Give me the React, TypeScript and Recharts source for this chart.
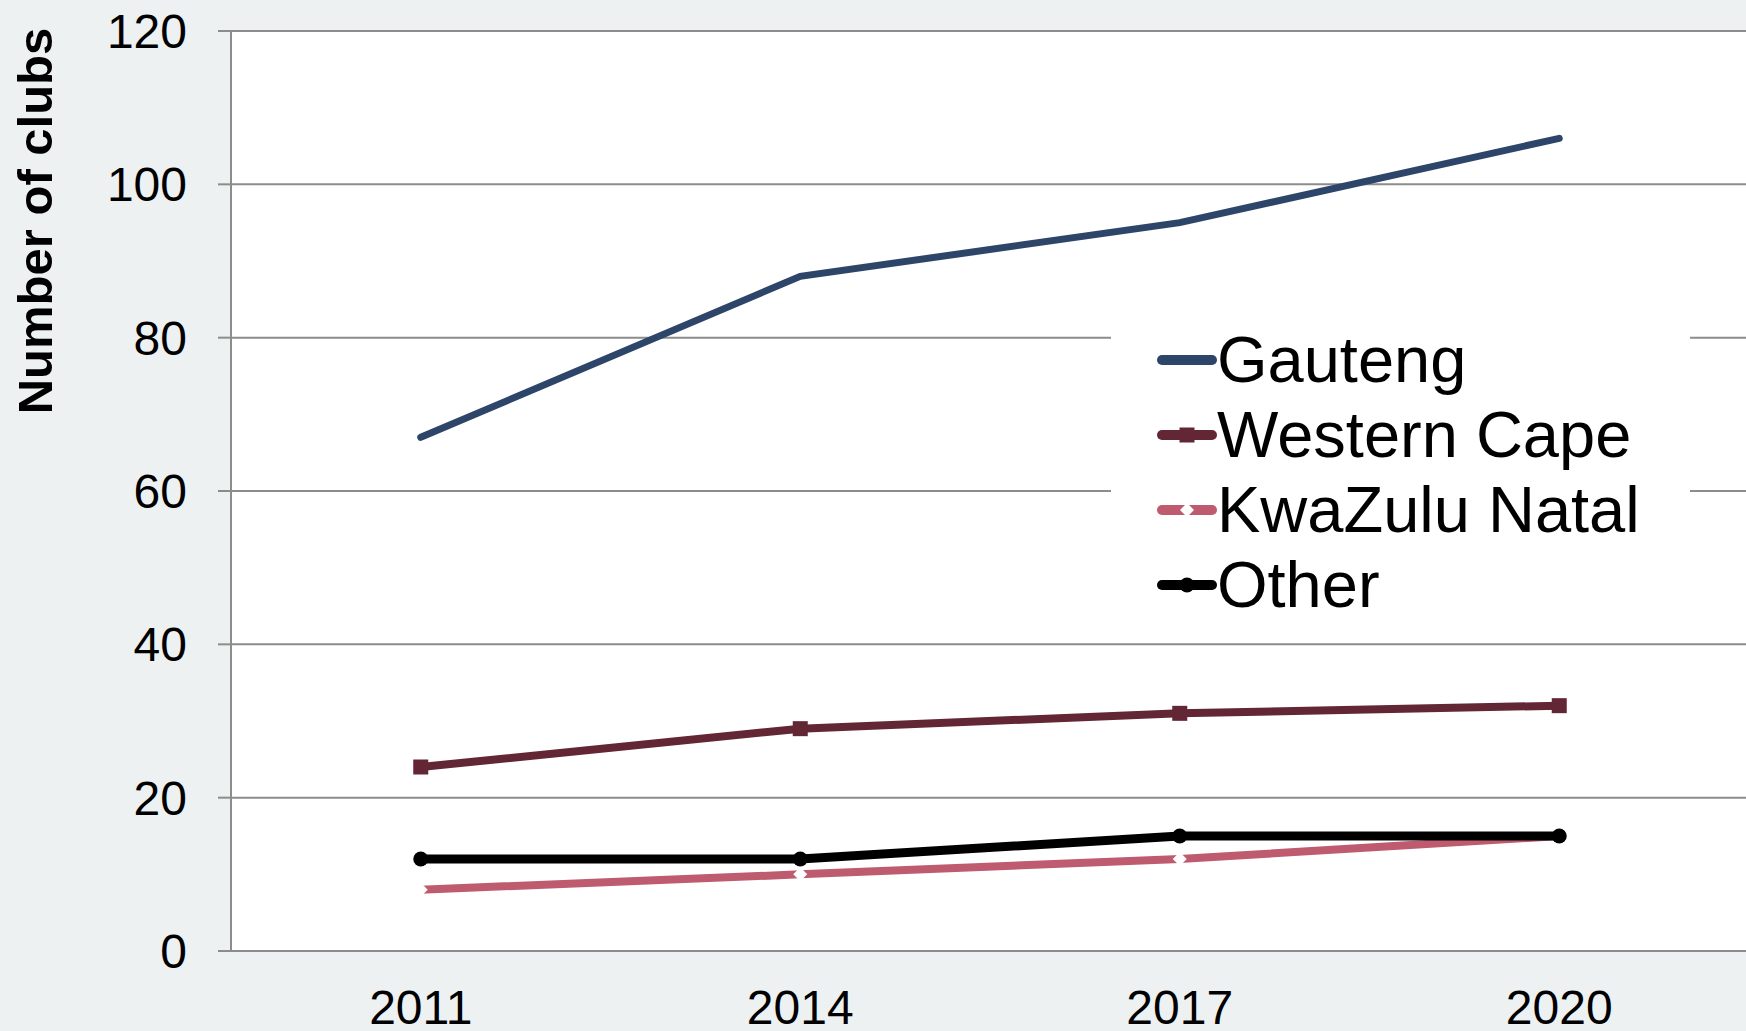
import { LineChart, Line, XAxis, YAxis, CartesianGrid, Legend } from 'recharts';

const years = ['2011', '2014', '2017', '2020'];
const gauteng = [67, 88, 95, 106];
const westernCape = [24, 29, 31, 32];
const kwaZuluNatal = [8, 10, 12, 15];
const other = [12, 12, 15, 15];
const yTicks = [0, 20, 40, 60, 80, 100, 120];
const edgeTicks = [0, 1, 2, 3, 4];

const data = years.map((year, i) => ({
  year,
  gauteng: gauteng[i],
  westernCape: westernCape[i],
  kwaZuluNatal: kwaZuluNatal[i],
  other: other[i],
}));

const series = [
  { key: 'gauteng', name: 'Gauteng', color: '#2C4569', width: 7, marker: 'none' },
  { key: 'westernCape', name: 'Western Cape', color: '#632635', width: 8, marker: 'square' },
  { key: 'kwaZuluNatal', name: 'KwaZulu Natal', color: '#BE5B6E', width: 8, marker: 'diamond' },
  { key: 'other', name: 'Other', color: '#000000', width: 9, marker: 'circle' },
];

const GRID = '#8c8c8c';

function Marker({ type, cx, cy, color }: { type: string; cx: number; cy: number; color: string }) {
  if (type === 'square') return <rect x={cx - 7.5} y={cy - 7.5} width={15} height={15} fill={color} />;
  if (type === 'diamond')
    return <polygon points={`${cx - 7},${cy} ${cx},${cy - 7} ${cx + 7},${cy} ${cx},${cy + 7}`} fill="#fff" />;
  if (type === 'circle') return <circle cx={cx} cy={cy} r={7.5} fill={color} />;
  return null;
}

// legend keeps the series order (no sorting)
const renderLegend = () => (
  <div style={{ background: '#fff', width: 579, height: 318, boxSizing: 'border-box' }}>
    {series.map((s) => (
      <div key={s.key} style={{ display: 'flex', alignItems: 'center', height: 75 }}>
        <svg width={60} height={20} style={{ marginLeft: 46, flexShrink: 0 }}>
          <line x1={5} y1={10} x2={55} y2={10} stroke={s.color} strokeWidth={10} strokeLinecap="round" />
          <Marker type={s.marker} cx={30} cy={10} color={s.color} />
        </svg>
        <span style={{ fontSize: 65, lineHeight: '75px', color: '#000', whiteSpace: 'nowrap' }}>{s.name}</span>
      </div>
    ))}
  </div>
);

export default function App() {
  return (
    <div
      style={{
        position: 'absolute',
        left: 0,
        top: 0,
        width: 1746,
        height: 1031,
        background: '#EDF1F2',
        fontFamily: '"Liberation Sans", Arial, sans-serif',
        overflow: 'hidden',
      }}
    >
      <LineChart width={1749} height={1031} data={data} margin={{ top: 31, right: 0, bottom: 0, left: 0 }}>
        <CartesianGrid vertical={false} stroke={GRID} strokeWidth={2} fill="#fff" />
        <XAxis
          xAxisId="edges"
          type="number"
          domain={[0, 4]}
          ticks={edgeTicks}
          allowDataOverflow
          height={0}
          tick={false}
          tickSize={13}
          axisLine={{ stroke: GRID, strokeWidth: 2 }}
          tickLine={{ stroke: GRID, strokeWidth: 2 }}
        />
        <XAxis
          dataKey="year"
          scale="band"
          height={80}
          axisLine={false}
          tickLine={false}
          tickSize={0}
          tickMargin={39}
          tick={{ fill: '#000', fontSize: 48 }}
        />
        <YAxis
          width={231}
          domain={[0, 120]}
          ticks={yTicks}
          tickSize={13}
          tickMargin={31}
          tick={{ fill: '#000', fontSize: 48 }}
          axisLine={{ stroke: GRID, strokeWidth: 2 }}
          tickLine={{ stroke: GRID, strokeWidth: 2 }}
          label={{
            content: (p: any) => {
              const x = (p.viewBox?.x ?? 0) + 35;
              const y = (p.viewBox?.y ?? 31) + 190;
              return (
                <text
                  x={x}
                  y={y}
                  transform={`rotate(-90 ${x} ${y})`}
                  textAnchor="middle"
                  dominantBaseline="central"
                  fontSize={49}
                  fontWeight="bold"
                  fill="#000"
                >
                  Number of clubs
                </text>
              );
            },
          }}
        />
        <Legend
          layout="vertical"
          align="center"
          verticalAlign="middle"
          content={renderLegend}
          wrapperStyle={{ left: 1111, top: 322, width: 579, height: 318 }}
        />
        {series.map((s) => (
          <Line
            key={s.key}
            dataKey={s.key}
            name={s.name}
            type="linear"
            stroke={s.color}
            strokeWidth={s.width}
            strokeLinecap={s.marker === 'none' ? 'round' : 'butt'}
            isAnimationActive={false}
            dot={
              s.marker === 'none'
                ? false
                : (p: any) => <Marker key={`${s.key}-${p.index}`} type={s.marker} cx={p.cx} cy={p.cy} color={s.color} />
            }
            activeDot={false}
          />
        ))}
      </LineChart>
    </div>
  );
}
